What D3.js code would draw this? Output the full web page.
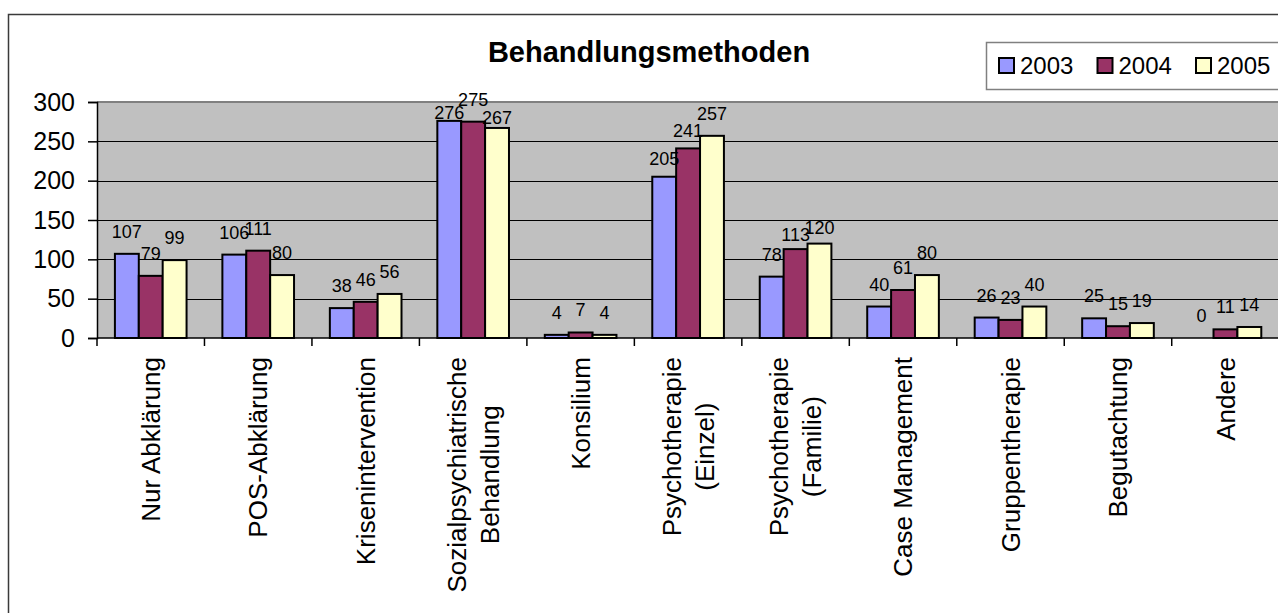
<!DOCTYPE html>
<html>
<head>
<meta charset="utf-8">
<script src="https://cdn.jsdelivr.net/npm/d3@7"></script>
<style>
  html, body { margin: 0; padding: 0; background: #fff; overflow: hidden; }
  svg { display: block; font-family: "Liberation Sans", Arial, sans-serif; }
</style>
</head>
<body>
<svg id="chart" width="1278" height="613"></svg>
<script>
// ---- data ----
const title = "Behandlungsmethoden";
const categories = [
  "Nur Abklärung",
  "POS-Abklärung",
  "Krisenintervention",
  "Sozialpsychiatrische\nBehandlung",
  "Konsilium",
  "Psychotherapie\n(Einzel)",
  "Psychotherapie\n(Familie)",
  "Case Management",
  "Gruppentherapie",
  "Begutachtung",
  "Andere"
];
const seriesNames = ["2003", "2004", "2005"];
const values2003 = [107, 106, 38, 276, 4, 205, 78, 40, 26, 25, 0];
const values2004 = [79, 111, 46, 275, 7, 241, 113, 61, 23, 15, 11];
const values2005 = [99, 80, 56, 267, 4, 257, 120, 80, 40, 19, 14];
const yTicks = [0, 50, 100, 150, 200, 250, 300];
const seriesColors = ["#9999FF", "#993366", "#FFFFCC"];

// ---- layout ----
const svg = d3.select("#chart");
const plot = { left: 97, top: 102, bottom: 338, right: 1279.2 };
const allValues = [values2003, values2004, values2005];

// manual label nudges (downward, px) as in the original chart
const labelNudge = { 3: [14, 0, 12], 5: [4, 5, 0], 6: [0, 8, 6] };

// outer chart border
svg.append("rect")
  .attr("x", 8.5).attr("y", 14.5)
  .attr("width", 1400).attr("height", 700)
  .attr("fill", "#fff").attr("stroke", "#3a3a3a").attr("stroke-width", 1.5);

const x0 = d3.scaleBand().domain(d3.range(categories.length))
  .range([plot.left, plot.right]).paddingInner(0).paddingOuter(0);
const x1 = d3.scaleBand().domain(d3.range(seriesNames.length))
  .range([0, x0.bandwidth()]).paddingInner(0).paddingOuter(0.75);
const y = d3.scaleLinear().domain([0, 300]).range([plot.bottom, plot.top]);

// plot background
svg.append("rect")
  .attr("x", plot.left).attr("y", plot.top)
  .attr("width", plot.right - plot.left).attr("height", plot.bottom - plot.top)
  .attr("fill", "#C0C0C0");

// gridlines
svg.append("g").selectAll("line").data(yTicks.filter(t => t > 0 && t < 300)).join("line")
  .attr("x1", plot.left).attr("x2", plot.right)
  .attr("y1", d => Math.round(y(d)) + 0.5).attr("y2", d => Math.round(y(d)) + 0.5)
  .attr("stroke", "#000").attr("stroke-width", 1);
// top border of plot area
svg.append("line")
  .attr("x1", plot.left).attr("x2", plot.right)
  .attr("y1", plot.top).attr("y2", plot.top)
  .attr("stroke", "#808080").attr("stroke-width", 2);

// bars
const groups = svg.append("g").selectAll("g").data(categories).join("g")
  .attr("transform", (d, i) => `translate(${x0(i)},0)`);
groups.each(function (cat, ci) {
  const g = d3.select(this);
  seriesNames.forEach((s, si) => {
    const v = allValues[si][ci];
    if (v > 0) {
      g.append("rect")
        .attr("x", x1(si)).attr("y", y(v))
        .attr("width", x1.bandwidth()).attr("height", y(0) - y(v))
        .attr("fill", seriesColors[si])
        .attr("stroke", "#000").attr("stroke-width", 2);
    }
  });
  seriesNames.forEach((s, si) => {
    const v = allValues[si][ci];
    const nudge = labelNudge[ci] ? labelNudge[ci][si] : 0;
    g.append("text")
      .attr("x", x1(si) + x1.bandwidth() / 2)
      .attr("y", y(v) - 16 + nudge)
      .attr("text-anchor", "middle")
      .attr("font-size", 18)
      .attr("fill", "#000")
      .text(v);
  });
});

// y axis
const yAxis = d3.axisLeft(y).tickValues(yTicks).tickSize(9).tickPadding(13);
const ya = svg.append("g").attr("transform", `translate(${plot.left},0)`).call(yAxis);
ya.select(".domain").attr("stroke", "#000").attr("stroke-width", 1.5);
ya.selectAll(".tick line").attr("stroke", "#000").attr("stroke-width", 1.5);
ya.selectAll(".tick text").attr("font-size", 25).attr("fill", "#000")
  .attr("font-family", "Liberation Sans, Arial, sans-serif");

// x axis line and ticks at category boundaries
svg.append("line")
  .attr("x1", plot.left).attr("x2", plot.right)
  .attr("y1", plot.bottom).attr("y2", plot.bottom)
  .attr("stroke", "#000").attr("stroke-width", 1.5);
svg.append("g").selectAll("line").data(d3.range(categories.length)).join("line")
  .attr("x1", d => x0(d)).attr("x2", d => x0(d))
  .attr("y1", plot.bottom).attr("y2", plot.bottom + 8)
  .attr("stroke", "#000").attr("stroke-width", 1.5);

// category labels, rotated
const labelTop = 357, xFont = 26, lineGap = 33;
categories.forEach((cat, ci) => {
  const lines = cat.split("\n");
  const cx = x0(ci) + x0.bandwidth() / 2;
  const g = svg.append("g").attr("transform", `translate(${cx},0) rotate(-90)`);
  const texts = lines.map((ln, li) => g.append("text")
    .attr("font-size", xFont).attr("fill", "#000")
    .attr("y", 0.35 * xFont + (li - (lines.length - 1) / 2) * lineGap)
    .text(ln));
  const maxW = d3.max(texts, t => t.node().getComputedTextLength());
  texts.forEach(t => t.attr("text-anchor", "middle").attr("x", -(labelTop + maxW / 2)));
});

// title
svg.append("text")
  .attr("x", 649).attr("y", 62)
  .attr("text-anchor", "middle")
  .attr("font-size", 29).attr("font-weight", "bold").attr("fill", "#000")
  .text(title);

// legend
const legend = svg.append("g");
legend.append("rect")
  .attr("x", 986.5).attr("y", 42.5).attr("width", 400).attr("height", 47)
  .attr("fill", "#fff").attr("stroke", "#808080").attr("stroke-width", 1.5);
seriesNames.forEach((s, si) => {
  const lx = 999 + si * 98.5;
  legend.append("rect")
    .attr("x", lx).attr("y", 58).attr("width", 15).attr("height", 15)
    .attr("fill", seriesColors[si]).attr("stroke", "#000").attr("stroke-width", 2);
  legend.append("text")
    .attr("x", lx + 21).attr("y", 74)
    .attr("font-size", 24).attr("fill", "#000")
    .text(s);
});
</script>
</body>
</html>
